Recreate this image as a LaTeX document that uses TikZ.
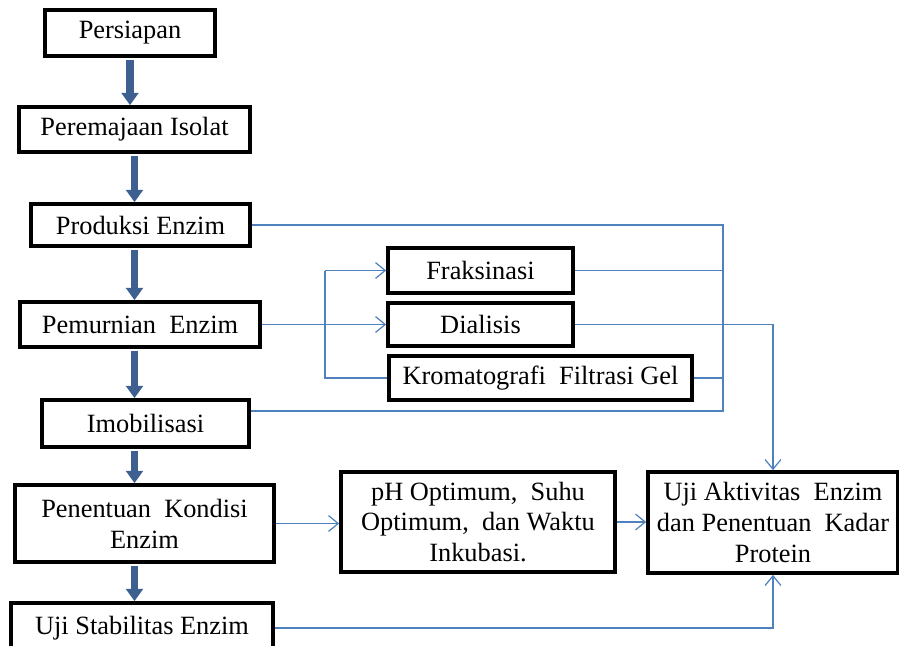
\documentclass[tikz,border=0pt]{standalone}
\usepackage{fontspec}
\setmainfont{Liberation Serif}
\usetikzlibrary{positioning,arrows.meta,calc}
\definecolor{flowblue}{RGB}{62,96,145}
\definecolor{linkblue}{RGB}{79,129,189}

\begin{document}
\begin{tikzpicture}[
        box/.style={rectangle, draw, line width=2.1pt, fill=white, inner sep=2pt, align=center, font=\fontsize{15}{17.6}\selectfont},
        flow/.style={draw=flowblue, line width=4.2pt, shorten <=1pt, -{Triangle[width=9.5pt,length=7pt]}},
        link/.style={draw=linkblue, line width=0.7pt},
        linkarr/.style={link, -{Straight Barb[length=5.5pt,width=9pt]}}
    ]
    \useasboundingbox (0,0) rectangle (17.98,-12.9);
    \clip (0,0) rectangle (17.98,-12.9);

    %% ---- main column ----
    \node[box, minimum width=3.4cm,  minimum height=0.92cm] (prep)  at (2.6,-0.66)  {Persiapan};
    \node[box, minimum width=4.62cm, minimum height=0.9cm]  (rejuv) at (2.69,-2.59) {Peremajaan Isolat};
    \node[box, minimum width=4.38cm, minimum height=0.84cm] (prod)  at (2.81,-4.5)  {Produksi Enzim};
    \node[box, minimum width=4.8cm,  minimum height=0.9cm]  (purif) at (2.8,-6.49)  {Pemurnian\ \ Enzim};
    \node[box, minimum width=4.14cm, minimum height=0.94cm] (immob) at (2.91,-8.47) {Imobilisasi};
    \node[box, minimum width=5.18cm, minimum height=1.54cm] (cond)  at (2.89,-10.47) {Penentuan\ \ Kondisi\\Enzim};
    \node[box, minimum width=5.24cm, minimum height=1.0cm]  (stab)  at (2.84,-12.56) {Uji Stabilitas Enzim};

    % thick arrows
    \draw[flow] (prep)  -- (prep  |- rejuv.north);
    \draw[flow] (rejuv) -- (rejuv |- prod.north);
    \draw[flow] (rejuv |- prod.south)  -- (rejuv |- purif.north);
    \draw[flow] (rejuv |- purif.south) -- (rejuv |- immob.north);
    \draw[flow] (rejuv |- immob.south) -- (rejuv |- cond.north);
    \draw[flow] (rejuv |- cond.south)  -- (rejuv |- stab.north);

    %% ---- purification steps ----
    \node[box, minimum width=3.7cm,  minimum height=0.9cm]  (frac) at (9.61,-5.41) {Fraksinasi};
    \node[box, minimum width=3.7cm,  minimum height=0.86cm] (dial) at (9.61,-6.49) {Dialisis};
    \node[box, minimum width=6.06cm, minimum height=0.88cm] (gel)  at (10.81,-7.56) {Kromatografi\ \ Filtrasi Gel};

    \coordinate (split) at (6.5,-6.49);
    \draw[linkarr] (purif.east) -- (dial.west);
    \draw[link] (split |- frac.west) -- (split |- gel.west) -- (gel.west);
    \draw[linkarr] (split |- frac.west) -- (frac.west);

    % bus on the right
    \coordinate (bus) at (14.46,-8.22);
    \draw[link] (prod.east) -| (bus) -- (immob.east |- bus);
    \draw[link] (frac.east) -- (frac.east -| bus);
    \draw[link] (gel.east)  -- (gel.east -| bus);

    %% ---- tests ----
    \node[box, minimum width=5.48cm, minimum height=2.0cm]  (opt)   at (9.56,-10.44)
          {pH Optimum,\ \ Suhu\\Optimum,\ \ dan Waktu\\Inkubasi.};
    \node[box, minimum width=5.0cm,  minimum height=2.02cm] (assay) at (15.46,-10.45)
          {Uji Aktivitas\ \ Enzim\\dan Penentuan\ \ Kadar\\Protein};

    \draw[linkarr] (dial.east) -| (assay.north);
    \draw[linkarr] (cond.east) -- (cond.east -| opt.west);
    \draw[linkarr] (opt.east)  -- (opt.east -| assay.west);
    \draw[linkarr] (stab.east) -| (assay.south);

\end{tikzpicture}
\end{document}
